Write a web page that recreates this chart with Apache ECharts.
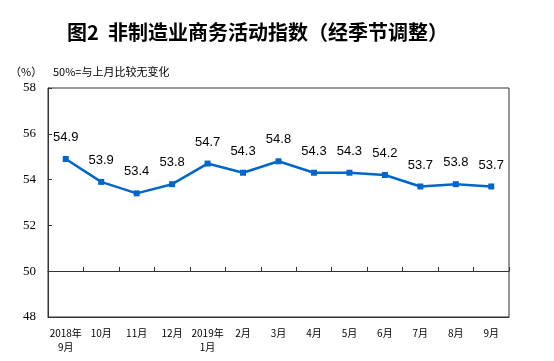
<!DOCTYPE html>
<html><head><meta charset="utf-8">
<script src="https://cdn.jsdelivr.net/npm/echarts@6/dist/echarts.min.js"></script>
<style>html,body{margin:0;padding:0;background:#fff}#c{width:554px;height:361px}</style>
</head><body><div id="c"></div>
<script>
const categories = ['2018年\n9月','10月','11月','12月','2019年\n1月','2月','3月','4月','5月','6月','7月','8月','9月'];
const values = [54.9, 53.9, 53.4, 53.8, 54.7, 54.3, 54.8, 54.3, 54.3, 54.2, 53.7, 53.8, 53.7];
const yTicks = {min: 48, max: 58, interval: 2};
const titleText = '图2  非制造业商务活动指数（经季节调整）';
const unitText = '（%）';
const noteText = '50%=与上月比较无变化';

const chart = echarts.init(document.getElementById('c'), null, {renderer: 'canvas'});
chart.setOption({
  animation: false,
  backgroundColor: '#fff',
  title: {text: titleText, left: 62, top: 17,
    textStyle: {fontFamily: 'Noto Sans CJK SC', fontSize: 20, fontWeight: 'bold', color: '#000'}},
  graphic: [
    {type: 'text', left: 10, top: 66, style: {text: unitText, font: '11px "Noto Sans CJK SC"', fill: '#000'}},
    {type: 'text', left: 53, top: 66, style: {text: noteText, font: '11px "Noto Sans CJK SC"', fill: '#000'}}
  ],
  grid: [
    {left: 48, right: 45, top: 88, bottom: 44, show: true, borderColor: '#333', borderWidth: 1},
    {left: 48, right: 45, top: 271, bottom: 44, show: false}
  ],
  xAxis: [
    {type: 'category', data: categories, gridIndex: 0, boundaryGap: true,
      axisLine: {show: true, lineStyle: {color: '#333', width: 1}},
      axisTick: {show: false},
      axisLabel: {fontFamily: 'Noto Sans CJK SC', fontSize: 10, color: '#000', margin: 9, lineHeight: 14, interval: 0}},
    {type: 'category', data: categories, gridIndex: 1, position: 'top', boundaryGap: true,
      axisLine: {show: true, onZero: false, lineStyle: {color: '#333', width: 1}},
      axisTick: {show: true, inside: false, length: 4, interval: 0, lineStyle: {color: '#333'}},
      axisLabel: {show: false}}
  ],
  yAxis: [
    {type: 'value', gridIndex: 0, min: yTicks.min, max: yTicks.max, interval: yTicks.interval,
      axisLine: {show: true, lineStyle: {color: '#333'}},
      axisTick: {show: true, inside: true, length: 4, lineStyle: {color: '#333'}},
      splitLine: {show: false},
      axisLabel: {fontFamily: 'Liberation Serif', fontSize: 13, color: '#000', margin: 12}},
    {type: 'value', gridIndex: 1, min: 0, max: 1, show: false}
  ],
  series: [{
    type: 'line', data: values, xAxisIndex: 0, yAxisIndex: 0,
    symbol: 'rect', symbolSize: 6, showAllSymbol: true,
    lineStyle: {color: '#0066CC', width: 2.5},
    itemStyle: {color: '#0066CC'},
    label: {show: true, position: 'top', distance: 12,
      fontFamily: 'Liberation Sans', fontSize: 13, color: '#000'}
  }]
});
</script></body></html>
